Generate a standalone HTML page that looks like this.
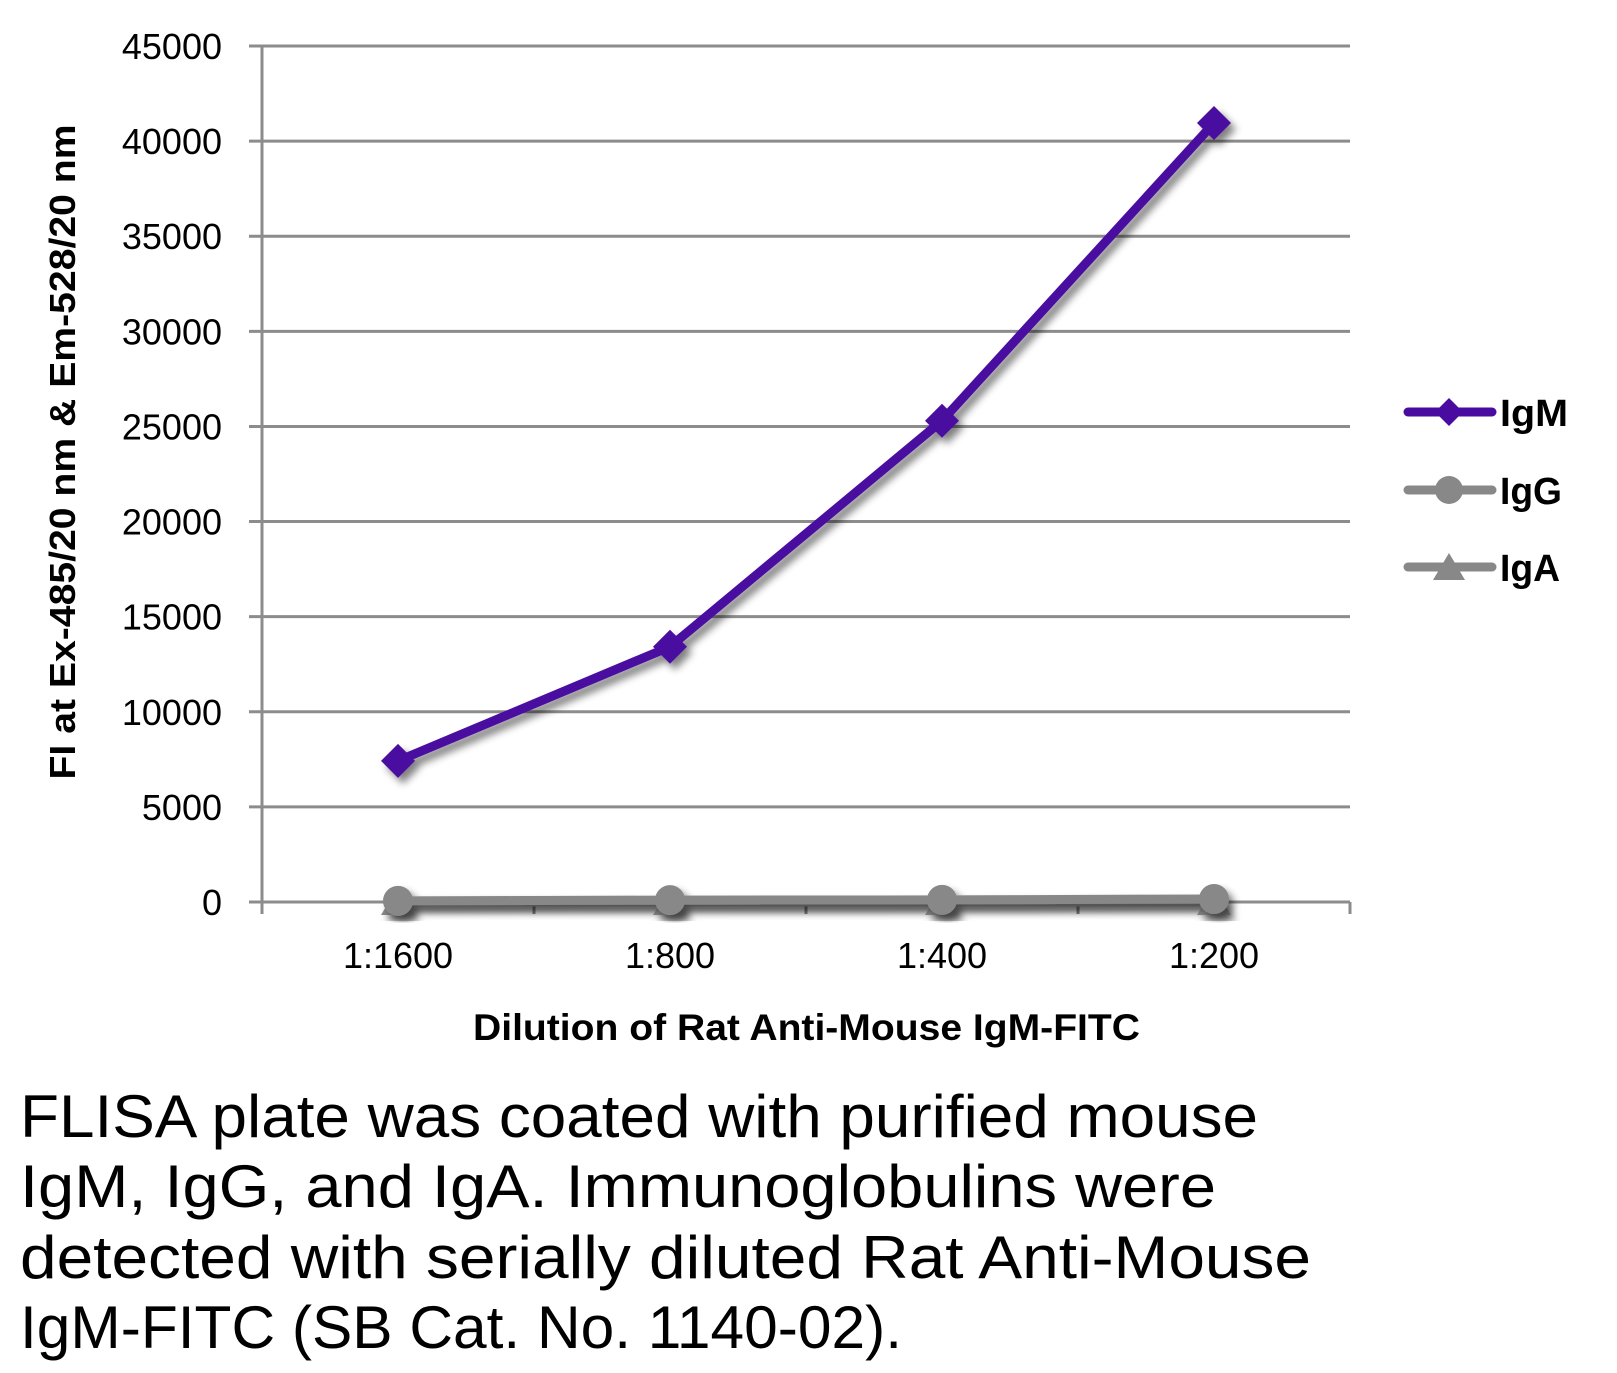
<!DOCTYPE html>
<html><head><meta charset="utf-8"><style>
html,body{margin:0;padding:0;background:#fff;}
svg{display:block;}
text{font-family:"Liberation Sans",sans-serif;}
</style></head><body>
<svg id="chart" width="1617" height="1373" viewBox="0 0 1617 1373" xmlns="http://www.w3.org/2000/svg">
<defs>
<filter id="shadow" x="-20%" y="-20%" width="140%" height="140%">
<feGaussianBlur in="SourceAlpha" stdDeviation="4"/>
<feOffset dx="5" dy="6" result="b"/>
<feComponentTransfer><feFuncA type="linear" slope="0.5"/></feComponentTransfer>
<feMerge><feMergeNode/><feMergeNode in="SourceGraphic"/></feMerge>
</filter>
</defs>
<g id="grid"></g>
<g id="yticks"></g>
<g id="xaxis"></g>
<g id="series"></g>
<text transform="translate(75,452) rotate(-90)" text-anchor="middle" font-size="36" font-weight="bold" textLength="655" lengthAdjust="spacingAndGlyphs">FI at Ex-485/20 nm &amp; Em-528/20 nm</text>
<text x="473" y="1040" font-size="37" font-weight="bold" textLength="667" lengthAdjust="spacingAndGlyphs">Dilution of Rat Anti-Mouse IgM-FITC</text>
<g>
<g>
<line x1="1408" y1="412" x2="1492" y2="412" stroke="#4a0ca0" stroke-width="9" stroke-linecap="round"/>
<polygon points="1449,398 1463,412 1449,426 1435,412" fill="#4a0ca0"/>
<text x="1500" y="426" font-size="38" font-weight="bold" textLength="68" lengthAdjust="spacingAndGlyphs">IgM</text>
</g>
<g>
<line x1="1408" y1="490" x2="1492" y2="490" stroke="#888" stroke-width="9" stroke-linecap="round"/>
<circle cx="1449" cy="490" r="14" fill="#888"/>
<text x="1500" y="504" font-size="38" font-weight="bold" textLength="62" lengthAdjust="spacingAndGlyphs">IgG</text>
</g>
<g>
<line x1="1408" y1="567" x2="1492" y2="567" stroke="#888" stroke-width="9" stroke-linecap="round"/>
<polygon points="1449,553 1465,580 1433,580" fill="#888"/>
<text x="1500" y="581" font-size="38" font-weight="bold" textLength="60" lengthAdjust="spacingAndGlyphs">IgA</text>
</g>
</g>
<g font-size="60">
<text x="20" y="1137" textLength="1238" lengthAdjust="spacingAndGlyphs">FLISA plate was coated with purified mouse</text>
<text x="20" y="1207" textLength="1196" lengthAdjust="spacingAndGlyphs">IgM, IgG, and IgA.  Immunoglobulins were</text>
<text x="20" y="1278" textLength="1291" lengthAdjust="spacingAndGlyphs">detected with serially diluted Rat Anti-Mouse</text>
<text x="20" y="1348" textLength="882" lengthAdjust="spacingAndGlyphs">IgM-FITC (SB Cat. No. 1140-02).</text>
</g>
</svg>
<script>
const categories = ["1:1600","1:800","1:400","1:200"];
const igmValues = [7420, 13420, 25300, 40950];
const iggValues = [60, 100, 110, 160];
const igaValues = [0, 0, 0, 0];
const yTicks = [0,5000,10000,15000,20000,25000,30000,35000,40000,45000];

const NS="http://www.w3.org/2000/svg";
const X0=262, X1=1350, Y0=902, Y1=46, YMAX=45000;
const band=(X1-X0)/categories.length;
function xs(i){return X0+band*(i+0.5);}
function ys(v){return Y0-(v/YMAX)*(Y0-Y1);}
function mk(tag,attrs,parent){const e=document.createElementNS(NS,tag);for(const k in attrs)e.setAttribute(k,attrs[k]);parent.appendChild(e);return e;}

const grid=document.getElementById('grid');
const yt=document.getElementById('yticks');
yTicks.forEach(v=>{
  const y=ys(v);
  const l=mk('line',{x1:249,x2:X1,y1:y,y2:y,stroke:'#8c8c8c','stroke-width':3},grid);
  
  
  const t=mk('text',{x:222,y:y+13,'text-anchor':'end','font-size':36},yt);
  
  
  t.textContent=v;
});
const xa=document.getElementById('xaxis');
const ya=mk('line',{x1:X0,x2:X0,y1:Y1,y2:Y0+12,stroke:'#8c8c8c','stroke-width':3},xa);


for(let i=0;i<=categories.length;i++){
  const x=X0+band*i;
  const tk=mk('line',{x1:x,x2:x,y1:Y0,y2:Y0+12,stroke:'#8c8c8c','stroke-width':3},xa);
  
  
}
categories.forEach((c,i)=>{
  const t=mk('text',{x:xs(i),y:968,'text-anchor':'middle','font-size':36},xa);
  
  
  t.textContent=c;
});

const sg=document.getElementById('series');
function drawSeries(vals,color,shape,name){
  const g=mk('g',{filter:'url(#shadow)'},sg);
  
  
  const pts=vals.map((v,i)=>xs(i)+','+ys(v)).join(' ');
  const pl=mk('polyline',{points:pts,fill:'none',stroke:color,'stroke-width':9,'stroke-linejoin':'round'},g);
  
  
  vals.forEach((v,i)=>{
    const x=xs(i),y=ys(v);let m;
    if(shape==='diamond') m=mk('polygon',{points:`${x},${y-17} ${x+17},${y} ${x},${y+17} ${x-17},${y}`,fill:color},g);
    else if(shape==='circle') m=mk('circle',{cx:x,cy:y,r:15,fill:color},g);
    else m=mk('polygon',{points:`${x},${y-16} ${x+17},${y+13} ${x-17},${y+13}`,fill:color},g);
    
    
  });
}
drawSeries(igaValues,'#888','triangle','iga');
drawSeries(iggValues,'#888','circle','igg');
drawSeries(igmValues,'#4a0ca0','diamond','igm');
</script>
</body></html>
